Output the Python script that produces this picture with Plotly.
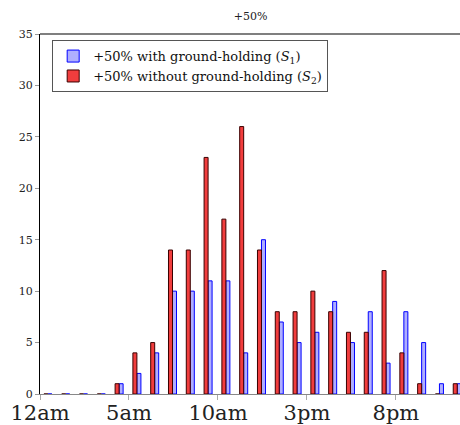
import plotly.graph_objects as go

# Hourly counts, hour 0 .. 23
hours = list(range(24))
with_gh = [0, 0, 0, 0, 1, 2, 4, 10, 10, 11, 11, 4, 15, 7, 5, 6, 9, 5, 8, 3, 8, 5, 1, 1]
without_gh = [0, 0, 0, 0, 1, 4, 5, 14, 14, 23, 17, 26, 14, 8, 8, 10, 8, 6, 6, 12, 4, 1, 0, 1]

tick_vals = [0, 5, 10, 15, 20]
tick_text = ["12am", "5am", "10am", "3pm", "8pm"]
y_ticks = [0, 5, 10, 15, 20, 25, 30, 35]

serif = "DejaVu Serif"

fig = go.Figure()
fig.add_trace(go.Bar(
    x=hours, y=with_gh, offset=0.445, width=0.225,
    name="+50% with ground-holding (<i>S</i><sub>1</sub>)",
    marker=dict(color="rgba(110,110,255,0.55)", line=dict(color="#0000ff", width=1)),
))
fig.add_trace(go.Bar(
    x=hours, y=without_gh, offset=0.22, width=0.225,
    name="+50% without ground-holding (<i>S</i><sub>2</sub>)",
    marker=dict(color="rgba(240,40,40,0.9)", line=dict(color="#3a0000", width=1)),
))

fig.update_layout(
    width=460, height=425,
    margin=dict(l=40, r=0, t=34, b=31, autoexpand=False),
    paper_bgcolor="white", plot_bgcolor="white",
    barmode="overlay",
    font=dict(family=serif, color="#222"),
    title=dict(text="+50%", x=0.545, xanchor="center", y=0.962, yanchor="middle",
               font=dict(size=11, family=serif, color="#222")),
    showlegend=True,
    legend=dict(
        x=0.029, y=0.983, xanchor="left", yanchor="top",
        bordercolor="#555", borderwidth=1, bgcolor="white",
        font=dict(size=13, family=serif, color="#111"),
        tracegroupgap=0, itemwidth=30,
    ),
    xaxis=dict(
        range=[0, 23.6], tickvals=tick_vals, ticktext=tick_text,
        showgrid=False, zeroline=False, automargin=False,
        showline=True, linecolor="#888", linewidth=1,
        ticks="outside", ticklen=5, tickcolor="#aaa",
        ticklabelstandoff=-5,
        tickfont=dict(size=21, family=serif, color="#222"),
    ),
    yaxis=dict(
        range=[0, 35], tickvals=y_ticks,
        showgrid=False, zeroline=False, automargin=False,
        showline=True, linecolor="#000", linewidth=1.2,
        ticks="outside", ticklen=4, tickcolor="#999",
        tickfont=dict(size=11, family=serif, color="#222"),
    ),
)
# top frame line
fig.add_shape(type="line", xref="paper", yref="paper", x0=0, x1=1, y0=1, y1=1,
              line=dict(color="#000", width=1.2))

fig.write_html("out.html")
